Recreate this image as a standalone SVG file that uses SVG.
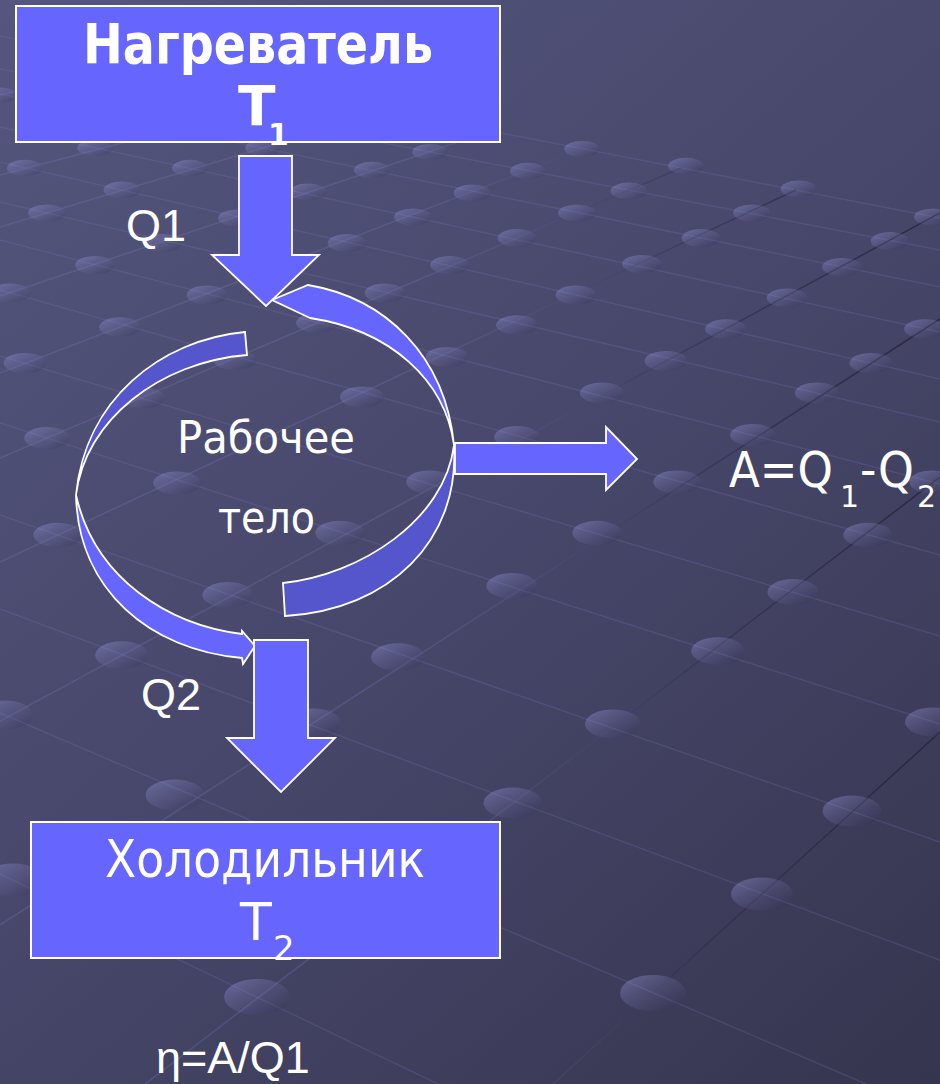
<svg xmlns="http://www.w3.org/2000/svg" width="940" height="1084" viewBox="0 0 940 1084">
<defs>
<linearGradient id="bg" x1="0" y1="0" x2="940" y2="1084" gradientUnits="userSpaceOnUse">
<stop offset="0" stop-color="#55567D"/>
<stop offset="0.5" stop-color="#47476B"/>
<stop offset="1" stop-color="#36354F"/>
</linearGradient>
<linearGradient id="dg" x1="0" y1="0" x2="1" y2="1">
<stop offset="0" stop-color="#A0A0E6" stop-opacity="0.45"/>
<stop offset="0.5" stop-color="#8080C0" stop-opacity="0.2"/>
<stop offset="1" stop-color="#101028" stop-opacity="0.22"/>
</linearGradient>
<linearGradient id="bl" x1="400" y1="0" x2="900" y2="0" gradientUnits="userSpaceOnUse">
<stop offset="0" stop-color="#7474B4" stop-opacity="0.3"/>
<stop offset="0.6" stop-color="#2C2C48" stop-opacity="0.5"/>
<stop offset="1" stop-color="#24243C" stop-opacity="0.8"/>
</linearGradient>
<style>
.la{stroke:#7474B4;stroke-opacity:0.25;stroke-width:1.5;fill:none}
.lb{stroke:url(#bl);stroke-width:1.5;fill:none}
.dot{fill:url(#dg)}
.box{fill:#6666FF;stroke:#FFFFFF;stroke-width:2}
.arr{fill:#6666FF;stroke:#FFFFFF;stroke-width:1.8;stroke-linejoin:miter}
.lt{fill:#6666FF;stroke:#FFFFFF;stroke-width:1.8}
.dk{fill:#5555CC;stroke:#FFFFFF;stroke-width:1.8}
.tah{font-family:"DejaVu Sans","Noto Sans",sans-serif;fill:#FFFFFF}
.ari{font-family:"Liberation Sans",Arial,sans-serif;fill:#FFFFFF}
</style>
</defs>
<rect x="0" y="0" width="940" height="1084" fill="url(#bg)"/>
<g id="background-grid">
<line class="la" x1="0" y1="36" x2="940" y2="218"/>
<line class="la" x1="0" y1="69" x2="940" y2="250"/>
<line class="la" x1="0" y1="94" x2="940" y2="287"/>
<line class="la" x1="0" y1="127" x2="940" y2="332"/>
<line class="la" x1="0" y1="162" x2="940" y2="379"/>
<line class="la" x1="0" y1="202" x2="940" y2="422"/>
<line class="la" x1="0" y1="240" x2="940" y2="484"/>
<line class="la" x1="0" y1="290" x2="940" y2="555"/>
<line class="la" x1="0" y1="356" x2="940" y2="636"/>
<line class="la" x1="0" y1="423" x2="940" y2="724"/>
<line class="la" x1="0" y1="515" x2="940" y2="842"/>
<line class="la" x1="0" y1="609" x2="940" y2="960"/>
<line class="la" x1="0" y1="713" x2="866" y2="1084"/>
<line class="la" x1="0" y1="874" x2="438" y2="1084"/>
<line class="lb" x1="0" y1="721" x2="940" y2="213"/>
<line class="lb" x1="0" y1="925" x2="940" y2="319"/>
<line class="lb" x1="145" y1="1084" x2="940" y2="477"/>
<line class="lb" x1="553" y1="1084" x2="940" y2="732"/>
<line class="lb" x1="0" y1="562" x2="796" y2="190"/>
<line class="lb" x1="0" y1="458" x2="681" y2="168"/>
<line class="lb" x1="0" y1="373" x2="583" y2="149"/>
<line class="lb" x1="0" y1="296" x2="491" y2="131"/>
<line class="lb" x1="0" y1="227" x2="386" y2="111"/>
<line class="lb" x1="0" y1="175" x2="305" y2="95"/>
<line class="lb" x1="0" y1="95" x2="136" y2="62"/>
<ellipse class="dot" cx="582" cy="149" rx="17.7" ry="8"/>
<ellipse class="dot" cx="686" cy="166" rx="18" ry="8.2"/>
<ellipse class="dot" cx="799" cy="189" rx="18.4" ry="8.4"/>
<ellipse class="dot" cx="933" cy="217" rx="18.9" ry="8.6"/>
<ellipse class="dot" cx="430" cy="152" rx="17.7" ry="8"/>
<ellipse class="dot" cx="528" cy="171" rx="18" ry="8.2"/>
<ellipse class="dot" cx="629" cy="191" rx="18.4" ry="8.4"/>
<ellipse class="dot" cx="752" cy="213" rx="18.9" ry="8.6"/>
<ellipse class="dot" cx="890" cy="241" rx="19.3" ry="8.9"/>
<ellipse class="dot" cx="0" cy="95" rx="16.7" ry="7.5"/>
<ellipse class="dot" cx="263" cy="148" rx="17.7" ry="8"/>
<ellipse class="dot" cx="372" cy="170" rx="18" ry="8.2"/>
<ellipse class="dot" cx="472" cy="193" rx="18.4" ry="8.4"/>
<ellipse class="dot" cx="577" cy="213" rx="18.9" ry="8.6"/>
<ellipse class="dot" cx="701" cy="238" rx="19.3" ry="8.9"/>
<ellipse class="dot" cx="842" cy="267" rx="19.8" ry="9.1"/>
<ellipse class="dot" cx="95" cy="148" rx="17.7" ry="8"/>
<ellipse class="dot" cx="190" cy="168" rx="18" ry="8.2"/>
<ellipse class="dot" cx="308" cy="192" rx="18.4" ry="8.4"/>
<ellipse class="dot" cx="413" cy="217" rx="18.9" ry="8.6"/>
<ellipse class="dot" cx="517" cy="238" rx="19.3" ry="8.9"/>
<ellipse class="dot" cx="642" cy="264" rx="19.8" ry="9.1"/>
<ellipse class="dot" cx="787" cy="298" rx="20.3" ry="9.4"/>
<ellipse class="dot" cx="925" cy="329" rx="20.9" ry="9.7"/>
<ellipse class="dot" cx="25" cy="168" rx="18" ry="8.2"/>
<ellipse class="dot" cx="122" cy="190" rx="18.4" ry="8.4"/>
<ellipse class="dot" cx="237" cy="218" rx="18.9" ry="8.6"/>
<ellipse class="dot" cx="347" cy="243" rx="19.3" ry="8.9"/>
<ellipse class="dot" cx="450" cy="265" rx="19.8" ry="9.1"/>
<ellipse class="dot" cx="576" cy="295" rx="20.3" ry="9.4"/>
<ellipse class="dot" cx="726" cy="329" rx="20.9" ry="9.7"/>
<ellipse class="dot" cx="871" cy="363" rx="21.5" ry="10.1"/>
<ellipse class="dot" cx="47" cy="213" rx="18.9" ry="8.6"/>
<ellipse class="dot" cx="163" cy="243" rx="19.3" ry="8.9"/>
<ellipse class="dot" cx="270" cy="268" rx="19.8" ry="9.1"/>
<ellipse class="dot" cx="385" cy="293" rx="20.3" ry="9.4"/>
<ellipse class="dot" cx="517" cy="325" rx="20.9" ry="9.7"/>
<ellipse class="dot" cx="666" cy="361" rx="21.5" ry="10.1"/>
<ellipse class="dot" cx="817" cy="393" rx="22.1" ry="10.5"/>
<ellipse class="dot" cx="95" cy="265" rx="19.8" ry="9.1"/>
<ellipse class="dot" cx="207" cy="295" rx="20.3" ry="9.4"/>
<ellipse class="dot" cx="317" cy="323" rx="20.9" ry="9.7"/>
<ellipse class="dot" cx="447" cy="357" rx="21.5" ry="10.1"/>
<ellipse class="dot" cx="602" cy="393" rx="22.1" ry="10.5"/>
<ellipse class="dot" cx="753" cy="435" rx="22.8" ry="11"/>
<ellipse class="dot" cx="933" cy="482" rx="23.7" ry="11.6"/>
<ellipse class="dot" cx="10" cy="293" rx="20.3" ry="9.4"/>
<ellipse class="dot" cx="120" cy="327" rx="20.9" ry="9.7"/>
<ellipse class="dot" cx="235" cy="360" rx="21.5" ry="10.1"/>
<ellipse class="dot" cx="362" cy="397" rx="22.1" ry="10.5"/>
<ellipse class="dot" cx="517" cy="437" rx="22.8" ry="11"/>
<ellipse class="dot" cx="677" cy="482" rx="23.7" ry="11.6"/>
<ellipse class="dot" cx="868" cy="535" rx="24.6" ry="12.2"/>
<ellipse class="dot" cx="25" cy="363" rx="21.5" ry="10.1"/>
<ellipse class="dot" cx="143" cy="398" rx="22.1" ry="10.5"/>
<ellipse class="dot" cx="430" cy="482" rx="23.7" ry="11.6"/>
<ellipse class="dot" cx="597" cy="533" rx="24.6" ry="12.2"/>
<ellipse class="dot" cx="793" cy="592" rx="25.6" ry="12.9"/>
<ellipse class="dot" cx="47" cy="438" rx="22.8" ry="11"/>
<ellipse class="dot" cx="177" cy="483" rx="23.7" ry="11.6"/>
<ellipse class="dot" cx="340" cy="533" rx="24.6" ry="12.2"/>
<ellipse class="dot" cx="512" cy="586" rx="25.6" ry="12.9"/>
<ellipse class="dot" cx="718" cy="651" rx="26.8" ry="13.7"/>
<ellipse class="dot" cx="933" cy="722" rx="28" ry="14.6"/>
<ellipse class="dot" cx="58" cy="535" rx="24.6" ry="12.2"/>
<ellipse class="dot" cx="228" cy="595" rx="25.6" ry="12.9"/>
<ellipse class="dot" cx="398" cy="657" rx="26.8" ry="13.7"/>
<ellipse class="dot" cx="613" cy="724" rx="28" ry="14.6"/>
<ellipse class="dot" cx="852" cy="811" rx="29.4" ry="15.5"/>
<ellipse class="dot" cx="122" cy="655" rx="26.8" ry="13.7"/>
<ellipse class="dot" cx="313" cy="723" rx="28" ry="14.6"/>
<ellipse class="dot" cx="513" cy="803" rx="29.4" ry="15.5"/>
<ellipse class="dot" cx="762" cy="894" rx="31" ry="16.6"/>
<ellipse class="dot" cx="5" cy="715" rx="28" ry="14.6"/>
<ellipse class="dot" cx="175" cy="795" rx="29.4" ry="15.5"/>
<ellipse class="dot" cx="653" cy="993" rx="32.9" ry="18"/>
<ellipse class="dot" cx="13" cy="880" rx="31" ry="16.6"/>
<ellipse class="dot" cx="257" cy="997" rx="32.9" ry="18"/>
</g>
<g id="connectors">
<path id="loop-right-upper" class="lt" d="M272,300 L308,285 C385,298 445,355 454,445 C445,380 390,330 310,318 Z"/>
<path id="loop-right-lower" class="dk" d="M454,445 C460,540 390,610 285,616 L283,583 C360,575 445,520 454,445 Z"/>
<path id="loop-left-upper" class="dk" d="M245,332 C160,340 85,400 76,495 C85,420 160,362 247,355 Z"/>
<path id="loop-left-lower" class="lt" d="M76,495 C78,590 150,650 242,658 L243,664 L255,646 L242,631 L242,634 C170,625 95,580 76,495 Z"/>
<polygon id="arrow-q1" class="arr" points="239,156 292,156 292,255 319,255 266,306 212,255 239,255"/>
<polygon id="arrow-work" class="arr" points="455,443 606,443 606,427 637,459 606,490 606,474 455,474"/>
<polygon id="arrow-q2" class="arr" points="254,640 308,640 308,738 335,738 281,792 227,738 254,738"/>
</g>
<g id="node-heater">
<rect class="box" x="16" y="6" width="484" height="136"/>
<text class="tah" x="83" y="63" font-size="55" font-weight="bold" textLength="350" lengthAdjust="spacingAndGlyphs">Нагреватель</text>
<text class="tah" x="238" y="125" font-size="55" font-weight="bold">T</text>
<text class="tah" x="268" y="145" font-size="30" font-weight="bold">1</text>
</g>
<g id="node-cooler">
<rect class="box" x="31" y="822" width="469" height="136"/>
<text class="tah" x="105" y="877" font-size="52" textLength="320" lengthAdjust="spacingAndGlyphs">Холодильник</text>
<text class="tah" x="240" y="940" font-size="52">T</text>
<text class="tah" x="273" y="960" font-size="34">2</text>
</g>
<g id="node-body">
<text class="tah" x="177" y="453" font-size="45" textLength="178" lengthAdjust="spacingAndGlyphs">Рабочее</text>
<text class="tah" x="218" y="533" font-size="45" textLength="97" lengthAdjust="spacingAndGlyphs">тело</text>
</g>
<g id="labels">
<text class="ari" x="126" y="241" font-size="45">Q1</text>
<text class="ari" x="141" y="710" font-size="45">Q2</text>
<text class="ari" x="156" y="1073" font-size="45">η=A/Q1</text>
<text class="tah" x="729" y="487" font-size="50" textLength="104" lengthAdjust="spacingAndGlyphs">A=Q</text>
<text class="tah" x="840" y="507" font-size="30">1</text>
<text class="tah" x="860" y="487" font-size="50" textLength="54" lengthAdjust="spacingAndGlyphs">-Q</text>
<text class="tah" x="917" y="507" font-size="30">2</text>
</g>
</svg>
